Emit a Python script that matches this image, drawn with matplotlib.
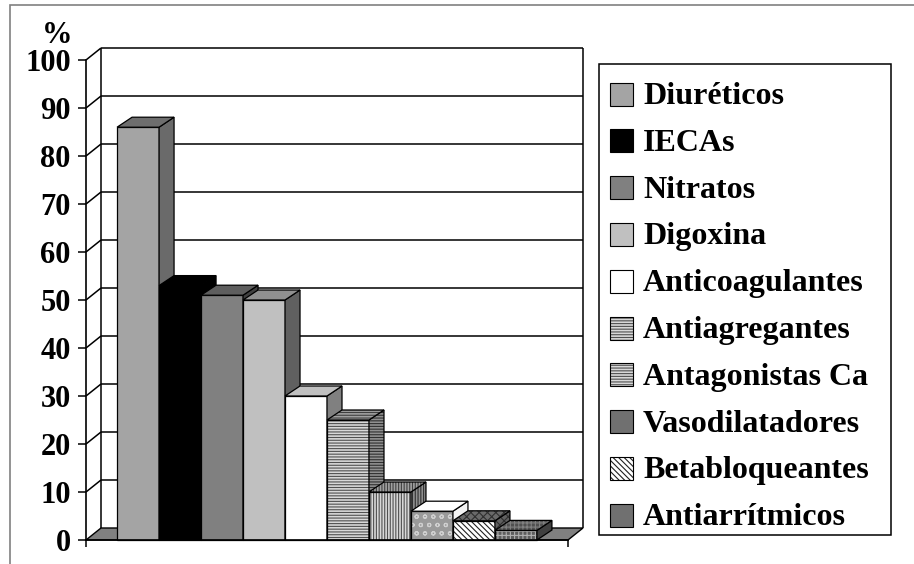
import matplotlib
matplotlib.use("Agg")
import matplotlib.pyplot as plt
from matplotlib.patches import Polygon, Rectangle

# ---- data -------------------------------------------------------------
categories = ["Diuréticos", "IECAs", "Nitratos", "Digoxina", "Anticoagulantes",
              "Antiagregantes", "Antagonistas Ca", "Vasodilatadores",
              "Betabloqueantes", "Antiarrítmicos"]
values = [86, 53, 51, 50, 30, 25, 10, 6, 4, 2]
y_ticks = list(range(0, 101, 10))
y_label = "%"

# ---- styles: (facecolor, hatch, hatchcolor) for front / side / top ----
bar_styles = [
    [("#a4a4a4", None, None), ("#6a6a6a", None, None), ("#6e6e6e", None, None)],
    [("#000000", None, None), ("#000000", None, None), ("#000000", None, None)],
    [("#808080", None, None), ("#404040", None, None), ("#5e5e5e", None, None)],
    [("#c0c0c0", None, None), ("#606060", None, None), ("#909090", None, None)],
    [("#ffffff", None, None), ("#808080", None, None), ("#c0c0c0", None, None)],
    [("#d8d8d8", "------", "#505050"), ("#909090", "------", "#303030"), ("#a0a0a0", "------", "#404040")],
    [("#d8d8d8", "||||||", "#505050"), ("#909090", "||||||", "#303030"), ("#a0a0a0", "||||||", "#404040")],
    [("#9a9a9a", "oo", "#d0d0d0"), ("#f4f4f4", None, None), ("#ffffff", None, None)],
    [("#ffffff", "\\\\\\\\\\\\", "#202020"), ("#606060", "xxxx", "#303030"), ("#6a6a6a", "xxxx", "#303030")],
    [("#5e5e5e", "++++", "#b0b0b0"), ("#404040", None, None), ("#505050", "++++", "#808080")],
]
legend_styles = [
    ("#a4a4a4", None, None), ("#000000", None, None), ("#808080", None, None),
    ("#c0c0c0", None, None), ("#ffffff", None, None), ("#d8d8d8", "------", "#505050"),
    ("#d8d8d8", "------", "#505050"), ("#707070", None, None),
    ("#ffffff", "\\\\\\\\\\\\", "#202020"), ("#707070", None, None),
]

plt.rcParams["font.family"] = ["Liberation Serif", "DejaVu Serif"]
plt.rcParams["font.weight"] = "bold"
plt.rcParams["hatch.linewidth"] = 0.8

W, H, DPI = 914, 564, 100
fig = plt.figure(figsize=(W / DPI, H / DPI), dpi=DPI)
fig.patch.set_facecolor("white")


def fx(px):
    return px / W


def fy(py):
    return 1 - py / H


# front plane of the plot area
ax = fig.add_axes([fx(86), fy(540), fx(568) - fx(86), fy(60) - fy(540)])
XMIN, XMAX = -0.74, 10.74
ax.set_xlim(XMIN, XMAX)
ax.set_ylim(0, 100)
ax.set_facecolor("none")

px_x = (568 - 86) / (XMAX - XMIN)   # pixels per category unit
px_y = (540 - 60) / 100.0            # pixels per percent
DX = 15 / px_x                       # depth offset (x) in data units
DY_WALL = 12 / px_y
DY_BAR = 10 / px_y


def face(verts, style, z):
    fc, hatch, hc = style
    if hatch:
        ax.add_patch(Polygon(verts, closed=True, facecolor=fc, edgecolor=hc,
                             hatch=hatch, lw=0, zorder=z, clip_on=False))
        ax.add_patch(Polygon(verts, closed=True, fill=False, edgecolor="black",
                             lw=0.9, zorder=z, clip_on=False))
    else:
        ax.add_patch(Polygon(verts, closed=True, facecolor=fc, edgecolor="black",
                             lw=0.9, zorder=z, clip_on=False))


# walls and gridlines
grid_kw = dict(color="black", lw=1.1, zorder=1, clip_on=False, solid_capstyle="butt")
for t in y_ticks[1:]:
    ax.plot([XMIN + DX, XMAX + DX], [t + DY_WALL, t + DY_WALL], **grid_kw)
    ax.plot([XMIN, XMIN + DX], [t, t + DY_WALL], **grid_kw)
ax.plot([XMIN + DX, XMIN + DX], [DY_WALL, 100 + DY_WALL], **grid_kw)
ax.plot([XMAX + DX, XMAX + DX], [DY_WALL, 100 + DY_WALL], **grid_kw)

# floor
ax.add_patch(Polygon([(XMIN, 0), (XMAX, 0), (XMAX + DX, DY_WALL), (XMIN + DX, DY_WALL)],
                     closed=True, facecolor="#808080", edgecolor="black", lw=1.0,
                     zorder=1.5, clip_on=False))

# bars, drawn left to right so each front face covers the previous side face
for i, (v, st) in enumerate(zip(values, bar_styles)):
    z = 3 + i * 0.1
    x0, x1 = i, i + 1
    face([(x0, 0), (x1, 0), (x1, v), (x0, v)], st[0], z)
    face([(x1, 0), (x1 + DX, DY_BAR), (x1 + DX, v + DY_BAR), (x1, v)], st[1], z)
    face([(x0, v), (x1, v), (x1 + DX, v + DY_BAR), (x0 + DX, v + DY_BAR)], st[2], z)

# axes
for s in ("top", "right"):
    ax.spines[s].set_visible(False)
for s in ("left", "bottom"):
    ax.spines[s].set_linewidth(1.2)
    ax.spines[s].set_zorder(10)
ax.set_yticks(y_ticks)
ax.set_yticklabels([str(t) for t in y_ticks])
ax.tick_params(axis="y", direction="out", length=6, width=1.1, pad=5, labelsize=22)
ax.set_xticks([XMIN, XMAX])
ax.set_xticklabels(["", ""])
ax.tick_params(axis="x", direction="out", length=5, width=1.1)

fig.text(fx(57), fy(43), y_label, ha="center", va="baseline", fontsize=22, fontweight="bold")

# legend box
fig.add_artist(Rectangle((fx(599), fy(535)), fx(891) - fx(599), fy(64) - fy(535),
                         transform=fig.transFigure, facecolor="white", edgecolor="black",
                         lw=1.1, zorder=5))
ROW0, STEP, SW = 94.0, 46.8, 23
for k, (name, st) in enumerate(zip(categories, legend_styles)):
    cy = ROW0 + k * STEP
    fc, hatch, hc = st
    rect_kw = dict(transform=fig.transFigure, zorder=6)
    x0, y0 = fx(610), fy(cy + 11.5)
    w, h = fx(610 + SW) - fx(610), fy(cy - 11.5) - fy(cy + 11.5)
    if hatch:
        fig.add_artist(Rectangle((x0, y0), w, h, facecolor=fc, edgecolor=hc, hatch=hatch, lw=0, **rect_kw))
        fig.add_artist(Rectangle((x0, y0), w, h, fill=False, edgecolor="black", lw=0.8, **rect_kw))
    else:
        fig.add_artist(Rectangle((x0, y0), w, h, facecolor=fc, edgecolor="black", lw=0.8, **rect_kw))
    fig.text(fx(643), fy(cy + 10), name, ha="left", va="baseline", fontsize=23,
             fontweight="bold", zorder=7)

# outer chart frame
fig.add_artist(Rectangle((fx(10), fy(H + 10)), fx(W + 10) - fx(10), fy(5) - fy(H + 10),
                         transform=fig.transFigure, fill=False, edgecolor="#808080", lw=1.2))

fig.savefig("out.png", dpi=DPI)
